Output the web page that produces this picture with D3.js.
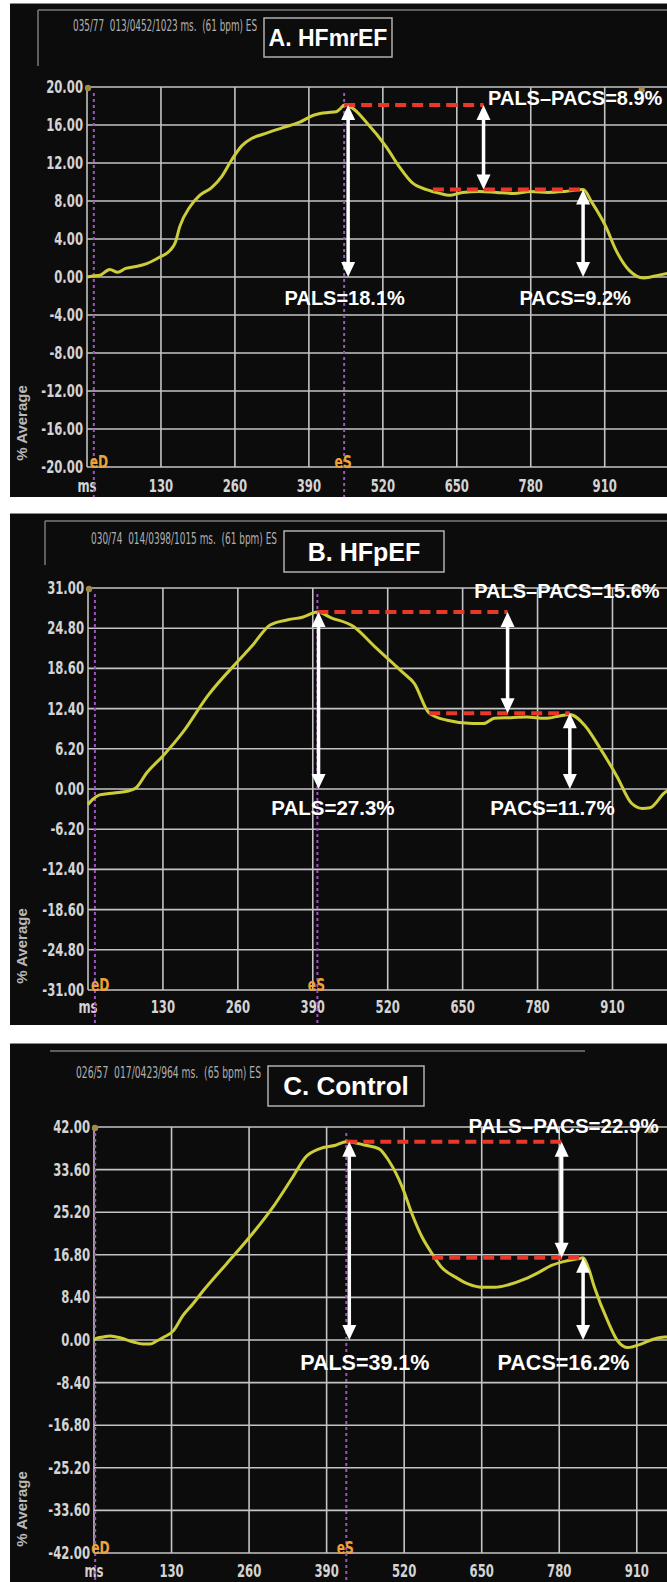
<!DOCTYPE html>
<html><head><meta charset="utf-8">
<script src="https://cdn.jsdelivr.net/npm/d3@7"></script>
<style>
html,body{margin:0;padding:0;background:#fff;}
svg{display:block;}
</style></head><body>
<svg id="chart" width="667" height="1582"></svg>
<script>
// ---------------- DATA ----------------
const titles = ["A. HFmrEF", "B. HFpEF", "C. Control"];
const headerTexts = [
  "035/77  013/0452/1023 ms.  (61 bpm) ES",
  "030/74  014/0398/1015 ms.  (61 bpm) ES",
  "026/57  017/0423/964 ms.  (65 bpm) ES"
];
const cycleMs = [1023, 1015, 964];
const xTickValues = [0, 130, 260, 390, 520, 650, 780, 910];
const xTickLabels = ["ms", "130", "260", "390", "520", "650", "780", "910"];
const yTicksA = [20, 16, 12, 8, 4, 0, -4, -8, -12, -16, -20];
const yTicksB = [31, 24.8, 18.6, 12.4, 6.2, 0, -6.2, -12.4, -18.6, -24.8, -31];
const yTicksC = [42, 33.6, 25.2, 16.8, 8.4, 0, -8.4, -16.8, -25.2, -33.6, -42];

// strain curves: [ms, % average]
const strainA = [[0,0.0],[10,0.1],[23,0.2],[40,0.8],[54,0.5],[68,0.9],[81,1.05],[105,1.4],[128,2.1],[146,2.8],[155,3.6],[163,5.3],[181,7.4],[198,8.6],[219,9.4],[237,10.6],[255,12.4],[272,13.8],[290,14.6],[308,15.0],[343,15.7],[374,16.3],[397,17.0],[421,17.3],[438,17.4],[445,17.7],[452,18.1],[466,17.8],[491,16.3],[526,13.7],[549,11.6],[572,9.9],[597,9.2],[620,8.8],[637,8.6],[660,8.9],[690,9.0],[720,8.9],[750,8.8],[780,9.0],[810,8.9],[840,9.0],[872,9.2],[888,7.8],[912,5.3],[930,2.8],[953,0.7],[979,-0.1],[1005,0.2],[1023,0.4]];
const strainB = [[0,-2.4],[8,-1.6],[20,-0.9],[45,-0.6],[70,-0.3],[83,0.15],[102,2.5],[130,5.1],[165,8.8],[208,14.4],[260,19.7],[284,22.0],[316,25.3],[347,26.1],[372,26.5],[398,27.3],[422,26.4],[460,25.1],[497,22.0],[547,17.9],[566,16.3],[592,11.7],[623,10.6],[667,10.1],[686,10.1],[705,10.9],[730,11.0],[761,11.1],[793,10.9],[820,11.3],[836,11.5],[862,9.8],[887,6.5],[918,1.9],[943,-2.2],[962,-3.0],[975,-2.9],[1000,-0.6],[1015,0.3]];
const strainC = [[0,0.0],[4,0.3],[15,0.6],[27,0.8],[45,0.4],[66,-0.4],[82,-0.8],[94,-0.8],[105,-0.2],[116,0.5],[133,1.8],[149,4.8],[165,7.0],[183,9.7],[222,15.0],[261,20.3],[300,26.2],[333,32.1],[355,36.1],[378,37.7],[405,38.4],[423,39.1],[455,38.4],[478,37.7],[494,35.4],[517,30.1],[533,24.9],[550,20.3],[567,17.0],[583,14.3],[606,12.4],[628,11.0],[650,10.4],[672,10.4],[695,10.9],[722,12.0],[745,13.3],[767,14.7],[789,15.5],[811,16.0],[820,16.2],[828,14.5],[839,10.4],[861,3.8],[878,-0.2],[895,-1.5],[917,-0.8],[939,0.2],[957,0.6],[964,0.6]];

const eDms = [12, 12, 2];
const eSms = [452, 398, 423];
const palsPct = [18.1, 27.3, 39.1];
const pacsPct = [9.2, 11.7, 16.2];
const diffPct = [8.9, 15.6, 22.9];
const palsArrowMs = [459, 400, 428];
const diffArrowMs = [697, 728, 784];
const pacsArrowMs = [872, 836, 820];
const lowerDashStartMs = [608, 592, 567];
const palsLabelMs = [453, 425, 454];
const pacsLabelMs = [858, 806, 787];
const bottomLabelPct = [-2.2, -2.9, -4.6];
const diffLabelMs = [705, 670, 628];
const diffLabelPct = [18.8, 30.5, 42.2];
const endMarkerMs = [975, null, 932];

// ---------------- LAYOUT ----------------
const layout = [
  {top:3, bottom:497, x0:87, x1:669, yT:87, yB:467, brT:10, brL:38, brR:667, brLB:66, hdrX:73, hdrY:31, hdrW:184, box:[264,18,392,57], titleSize:23, labelSize:20, diffSize:20, xLblY:492},
  {top:513, bottom:1025, x0:88, x1:673, yT:588, yB:990, brT:521, brL:45, brR:667, brLB:565, hdrX:91, hdrY:544, hdrW:186, box:[284,531,444,572], titleSize:25, labelSize:20.5, diffSize:20, xLblY:1013},
  {top:1043, bottom:1582, x0:94, x1:669, yT:1127, yB:1553, brT:1051, brL:50, brR:585, brLB:null, hdrX:76, hdrY:1078, hdrW:185, box:[268,1066,424,1106], titleSize:26, labelSize:21.5, diffSize:20.5, xLblY:1577}
];
const strains = [strainA, strainB, strainC];
const yTicksAll = [yTicksA, yTicksB, yTicksC];

const svg = d3.select("#chart");
const GRID = "#c4c4c4", CURVE = "#cdcd3a", RED = "#e8382a", PURPLE = "#a052c0", ORANGE = "#f0a23a";

function narrow(g, x, y, txt, anchor, size, color, weight, sx) {
  return g.append("text")
    .attr("transform", `translate(${x},${y}) scale(${sx || 0.72},1)`)
    .attr("text-anchor", anchor)
    .attr("font-family", "'Liberation Sans Narrow','DejaVu Sans Condensed',sans-serif")
    .attr("font-size", size)
    .attr("font-weight", weight || "bold")
    .attr("fill", color)
    .text(txt);
}

function arrow(g, x, y1, y2) {
  const hw = 7, hl = 15;
  g.append("line").attr("x1", x).attr("x2", x).attr("y1", y1 + hl - 2).attr("y2", y2 - hl + 2)
    .attr("stroke", "#fff").attr("stroke-width", 3.5);
  g.append("path").attr("d", `M${x},${y1} L${x - hw},${y1 + hl} L${x + hw},${y1 + hl} Z`).attr("fill", "#fff");
  g.append("path").attr("d", `M${x},${y2} L${x - hw},${y2 - hl} L${x + hw},${y2 - hl} Z`).attr("fill", "#fff");
}

layout.forEach((L, i) => {
  const g = svg.append("g");
  g.append("rect").attr("x", 10).attr("y", L.top).attr("width", 657).attr("height", L.bottom - L.top).attr("fill", "#0c0c0c");
  g.append("line").attr("x1", 10).attr("x2", 667).attr("y1", L.top + 0.5).attr("y2", L.top + 0.5).attr("stroke", "#8a8a8a").attr("stroke-width", 1);

  const clipId = "clip" + i;
  svg.append("defs").append("clipPath").attr("id", clipId)
    .append("rect").attr("x", 10).attr("y", L.top).attr("width", 657).attr("height", L.bottom - L.top);
  const p = g.append("g").attr("clip-path", `url(#${clipId})`);

  const x = d3.scaleLinear().domain([0, cycleMs[i]]).range([L.x0, L.x1]);
  const yTicks = yTicksAll[i];
  const y = d3.scaleLinear().domain([yTicks[yTicks.length - 1], yTicks[0]]).range([L.yB, L.yT]);

  // bracket + header
  p.append("line").attr("x1", L.brL).attr("x2", L.brR).attr("y1", L.brT).attr("y2", L.brT).attr("stroke", "#7a7a7a").attr("stroke-width", 1.5);
  if (L.brLB) p.append("line").attr("x1", L.brL).attr("x2", L.brL).attr("y1", L.brT).attr("y2", L.brLB).attr("stroke", "#7a7a7a").attr("stroke-width", 1.5);
  p.append("text").attr("x", L.hdrX).attr("y", L.hdrY)
    .attr("font-family", "'Liberation Sans Narrow','DejaVu Sans Condensed',sans-serif")
    .attr("font-size", 15).attr("fill", "#b0b0b0")
    .attr("textLength", L.hdrW).attr("lengthAdjust", "spacingAndGlyphs")
    .attr("xml:space", "preserve")
    .text(headerTexts[i]);

  // title box
  const b = L.box;
  p.append("rect").attr("x", b[0]).attr("y", b[1]).attr("width", b[2] - b[0]).attr("height", b[3] - b[1])
    .attr("fill", "#0c0c0c").attr("stroke", "#b0b0b0").attr("stroke-width", 1.5);
  p.append("text").attr("x", (b[0] + b[2]) / 2).attr("y", (b[1] + b[3]) / 2 + L.titleSize * 0.36)
    .attr("text-anchor", "middle").attr("font-family", "'Liberation Sans',Arial,sans-serif")
    .attr("font-weight", "bold").attr("font-size", L.titleSize).attr("fill", "#fff").text(titles[i]);

  // grid
  const gridG = p.append("g");
  yTicks.forEach(t => {
    gridG.append("line").attr("x1", L.x0).attr("x2", 667).attr("y1", y(t)).attr("y2", y(t))
      .attr("stroke", GRID).attr("stroke-width", 1.6);
  });
  xTickValues.forEach(t => {
    gridG.append("line").attr("x1", x(t)).attr("x2", x(t)).attr("y1", L.yT).attr("y2", L.yB)
      .attr("stroke", GRID).attr("stroke-width", 1.6);
  });

  yTicks.forEach(t => {
    narrow(p, L.x0 - 4, y(t) + 6, t.toFixed(2), "end", 18, "#d4d4d4");
  });
  xTickValues.forEach((t, k) => {
    narrow(p, x(t), L.xLblY, xTickLabels[k], "middle", 18, "#d4d4d4");
  });
  p.append("text").attr("transform", `translate(27,${L.yB - 44}) rotate(-90)`)
    .attr("text-anchor", "middle").attr("font-family", "'Liberation Sans',Arial,sans-serif")
    .attr("font-weight", "bold").attr("font-size", 15).attr("fill", "#b8b8b8").text("% Average");

  // eD / eS lines
  [eDms[i], eSms[i]].forEach(ms => {
    p.append("line").attr("x1", x(ms)).attr("x2", x(ms)).attr("y1", L.yT + 6).attr("y2", L.bottom)
      .attr("stroke", PURPLE).attr("stroke-width", 2).attr("stroke-dasharray", "3,3");
  });
  narrow(p, x(eDms[i]) - 4, L.yB + 1, "eD", "start", 17, ORANGE, "bold", 0.8);
  narrow(p, x(eSms[i]) - 1, L.yB + 1, "eS", "middle", 17, ORANGE, "bold", 0.8);

  // markers
  p.append("circle").attr("cx", x(0) + 1).attr("cy", y(yTicks[0]) + 1).attr("r", 3.2).attr("fill", "#9c8b4c");
  if (endMarkerMs[i] !== null) p.append("circle").attr("cx", x(endMarkerMs[i])).attr("cy", y(yTicks[0]) + 3).attr("r", 3.2).attr("fill", "#a08a50");

  // curve
  const line = d3.line().x(d => x(d[0])).y(d => y(d[1])).curve(d3.curveMonotoneX);
  p.append("path").datum(strains[i]).attr("d", line).attr("fill", "none")
    .attr("stroke", CURVE).attr("stroke-width", 3).attr("stroke-linejoin", "round");

  // red dashed levels
  p.append("line").attr("x1", x(eSms[i])).attr("x2", x(diffArrowMs[i])).attr("y1", y(palsPct[i])).attr("y2", y(palsPct[i]))
    .attr("stroke", RED).attr("stroke-width", 4).attr("stroke-dasharray", "11,6");
  p.append("line").attr("x1", x(lowerDashStartMs[i])).attr("x2", x(pacsArrowMs[i])).attr("y1", y(pacsPct[i])).attr("y2", y(pacsPct[i]))
    .attr("stroke", RED).attr("stroke-width", 4).attr("stroke-dasharray", "11,6");

  // arrows
  arrow(p, x(palsArrowMs[i]), y(palsPct[i]), y(0));
  arrow(p, x(diffArrowMs[i]), y(palsPct[i]), y(pacsPct[i]));
  arrow(p, x(pacsArrowMs[i]), y(pacsPct[i]), y(0));

  // labels
  const lab = (tx, ty, txt, anchor, size) => p.append("text").attr("x", tx).attr("y", ty).attr("text-anchor", anchor)
    .attr("font-family", "'Liberation Sans',Arial,sans-serif").attr("font-weight", "bold")
    .attr("font-size", size).attr("fill", "#fff").text(txt);
  lab(x(palsLabelMs[i]), y(bottomLabelPct[i]) + 7, `PALS=${palsPct[i]}%`, "middle", L.labelSize);
  lab(x(pacsLabelMs[i]), y(bottomLabelPct[i]) + 7, `PACS=${pacsPct[i]}%`, "middle", L.labelSize);
  lab(x(diffLabelMs[i]), y(diffLabelPct[i]) + 7, `PALS\u2013PACS=${diffPct[i]}%`, "start", L.diffSize);
});
</script>
</body></html>
